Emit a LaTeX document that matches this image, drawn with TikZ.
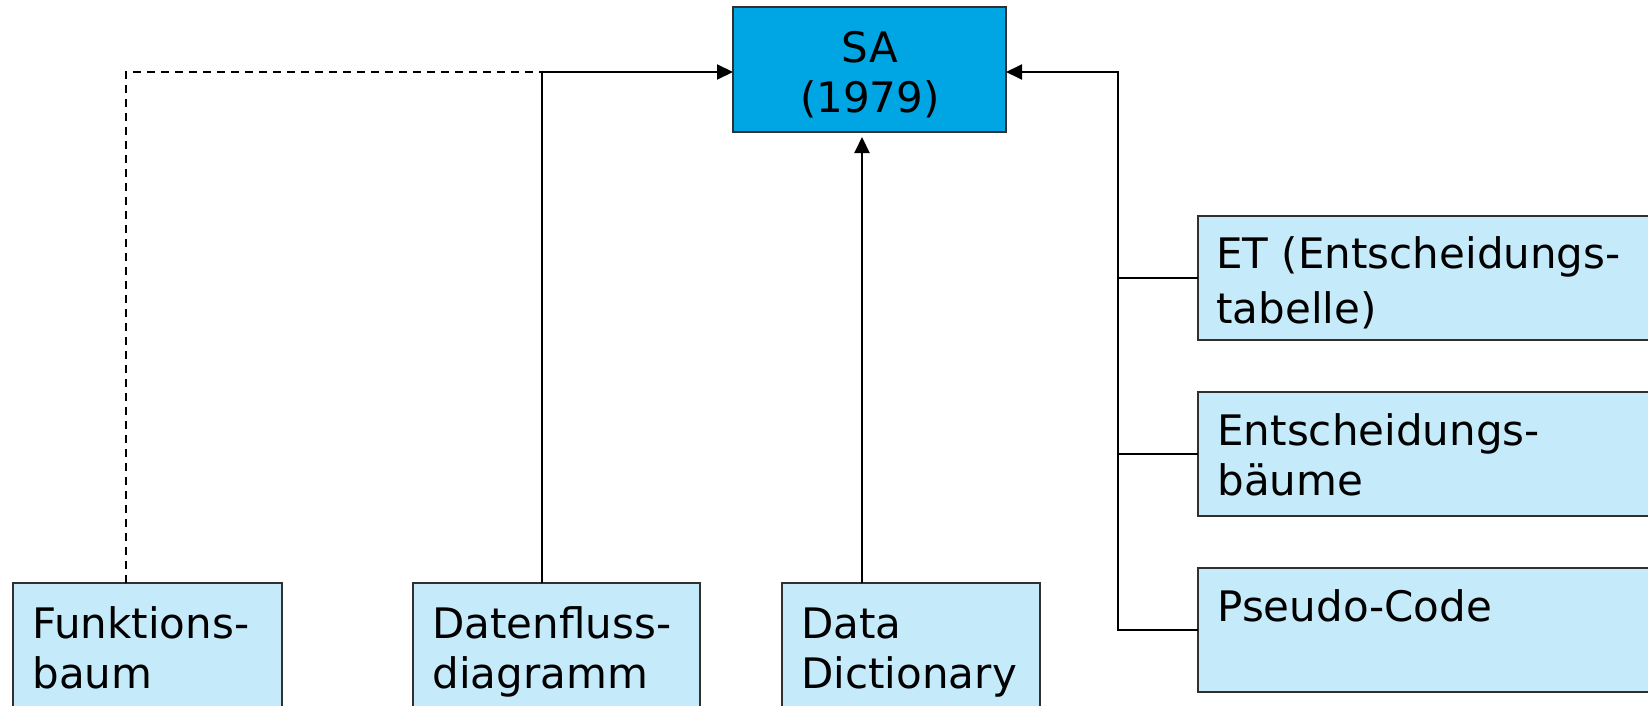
\documentclass[tikz,border=0pt]{standalone}
\usepackage{fontspec}
\setmainfont{DejaVu Sans}
\usetikzlibrary{arrows.meta}
\definecolor{saBlue}{HTML}{00A6E3}
\definecolor{paleBlue}{HTML}{C5EAFA}
\definecolor{edgeGray}{HTML}{303030}
\begin{document}
\begin{tikzpicture}[x=0.5pt,y=-0.5pt,
  box/.style={draw=edgeGray, line width=1pt, anchor=north west, inner sep=0pt, outer sep=0pt},
  mainbox/.style={box, fill=saBlue},
  subbox/.style={box, fill=paleBlue},
  lbl/.style={anchor=base west, inner sep=0pt, align=left, font=\fontsize{21pt}{25pt}\selectfont},
  link/.style={line width=1pt, draw=black},
  arr/.style={link, -{Triangle[length=8pt,width=7.5pt]}},
]
\clip (0,0) rectangle (1648,706);

% boxes
\node[mainbox, minimum width=136.5pt, minimum height=62.5pt] (sa) at (733,7) {};
\node[subbox, minimum width=240pt, minimum height=62pt] (et) at (1198,216) {};
\node[subbox, minimum width=240pt, minimum height=62pt] (eb) at (1198,392) {};
\node[subbox, minimum width=240pt, minimum height=62pt] (pc) at (1198,568) {};
\node[subbox, minimum width=134.5pt, minimum height=70pt] (fb) at (13,583) {};
\node[subbox, minimum width=143.5pt, minimum height=70pt] (df) at (413,583) {};
\node[subbox, minimum width=129pt, minimum height=70pt] (dd) at (782,583) {};

% texts (base anchor sits on the last line)
\node[inner sep=0pt, align=center, font=\fontsize{21pt}{25pt}\selectfont] (saText) at (870,74.5) {SA\\(1979)};
\node[lbl, font=\fontsize{21pt}{27.5pt}\selectfont] (etText) at (1216,323) {ET (Entscheidungs-\\tabelle)};
\node[lbl] (ebText) at (1217,495) {Entscheidungs-\\bäume};
\node[lbl] (pcText) at (1217,621) {Pseudo-Code};
\node[lbl] (fbText) at (32,688) {Funktions-\\baum};
\node[lbl] (dfText) at (432,688) {Datenfluss-\\diagramm};
\node[lbl] (ddText) at (801,688) {Data\\Dictionary};

% connectors
\coordinate (dashEnd) at (637,72);
\coordinate (trunk) at (1118,0);
\draw[arr] ([xshift=-7.25pt]df.north) |- ([yshift=-1.25pt]sa.west);
\draw[arr, shorten >=2.5pt] ([xshift=-3.75pt]dd.north -| sa.south) -- ([xshift=-3.75pt]sa.south);
\draw[arr] (pc.west) -- (pc.west -| trunk) |- ([yshift=-1.25pt]sa.east);
\draw[link] (et.west) -- (et.west -| trunk);
\draw[link] (eb.west) -- (eb.west -| trunk);
\draw[link, line width=1.4pt, dash pattern=on 4pt off 3pt] ([xshift=-10.75pt]fb.north) |- (dashEnd);
\end{tikzpicture}
\end{document}
